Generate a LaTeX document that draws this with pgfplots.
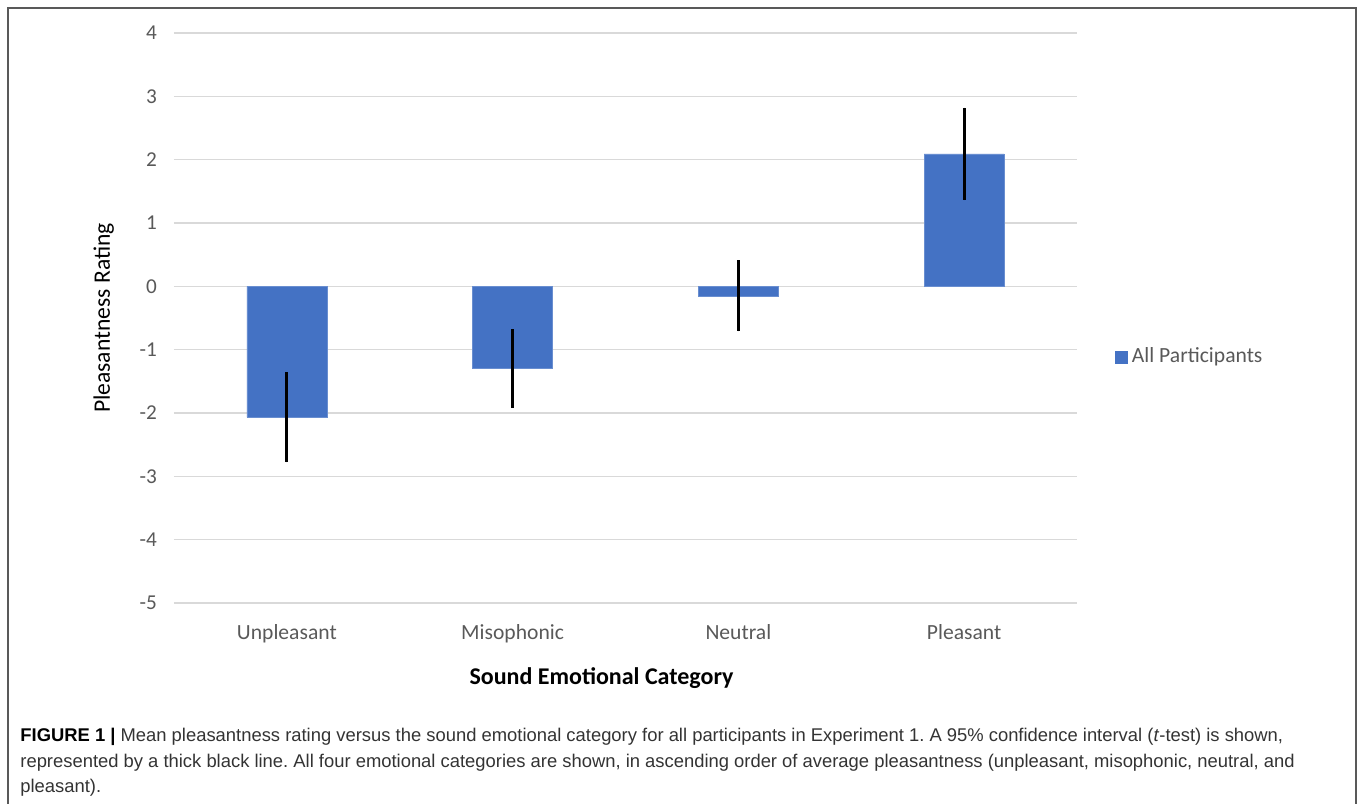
\documentclass[border=0pt]{standalone}
\usepackage{fontspec}
\setmainfont{Carlito}
\newfontfamily\capfont{Liberation Sans}
\usepackage{pgfplots}
\pgfplotsset{compat=1.18}
\definecolor{barblue}{HTML}{4472C4}
\definecolor{gridgray}{HTML}{D9D9D9}
\definecolor{ticktext}{HTML}{595959}
\definecolor{capgray}{HTML}{333333}
\frenchspacing
\begin{document}
\begin{tikzpicture}
\useasboundingbox (0,0) rectangle (678.5pt,-402pt);
\draw[line width=1pt, color=black!65] (4pt,-405pt) -- (4pt,-4pt) -- (678pt,-4pt) -- (678pt,-405pt);
\begin{axis}[
  at={(87pt,-301.5pt)}, anchor=south west,
  scale only axis, width=451.5pt, height=285pt,
  xmin=-0.5, xmax=3.5, ymin=-5, ymax=4,
  ytick={-5,-4,...,4},
  xtick={0,1,2,3},
  xticklabels={Unpleasant,Misophonic,Neutral,Pleasant},
  axis line style={draw=none},
  major tick length=0pt,
  ymajorgrids, grid style={gridgray, line width=0.6pt},
  yticklabel style={font=\fontsize{10.6}{12}\selectfont, color=ticktext, xshift=-5pt},
  xticklabel style={font=\fontsize{10.8}{12}\selectfont, color=ticktext, yshift=-7pt},
  /pgf/number format/assume math mode=true,
  ylabel={Pleasantness Rating},
  ylabel style={font=\fontsize{11.8}{13}\selectfont, color=black, yshift=6pt},
  xlabel={\textbf{Sound Emotional Category}},
  xlabel style={font=\fontsize{12}{14}\selectfont, color=black, yshift=-5.5pt, xshift=-12pt},
  ybar, bar width=40pt,
  legend style={at={(1.042,0.4316)}, anchor=west, draw=none, fill=none,
    font=\fontsize{10.8}{12}\selectfont, text=ticktext, inner sep=0pt,
    /tikz/every even column/.append style={column sep=0pt}},
  legend cell align=left,
  legend image code/.code={\fill[barblue] (0pt,-3pt) rectangle (6pt,3pt);},
]
\addplot[fill=barblue, draw=barblue!80!white, line width=0.3pt,
  error bars/.cd, y dir=both, y explicit,
  error bar style={line width=1.6pt, black}, error mark=none]
  coordinates {
    (0,-2.07) +- (0,0.71)
    (1,-1.30) +- (0,0.62)
    (2,-0.15) +- (0,0.56)
    (3,2.09) +- (0,0.73)
  };
\addlegendentry{All Participants}
\end{axis}
\node[anchor=base west, inner sep=0pt, font=\capfont\fontsize{9.2}{12}\selectfont, color=capgray] at (10pt,-370.5pt)
  {\textbf{\color{black}FIGURE 1 |} Mean pleasantness rating versus the sound emotional category for all participants in Experiment 1. A 95\% confidence interval (\textit{t}-test) is shown,};
\node[anchor=base west, inner sep=0pt, font=\capfont\fontsize{9.2}{12}\selectfont, color=capgray] at (10pt,-383.5pt)
  {represented by a thick black line. All four emotional categories are shown, in ascending order of average pleasantness (unpleasant, misophonic, neutral, and};
\node[anchor=base west, inner sep=0pt, font=\capfont\fontsize{9.2}{12}\selectfont, color=capgray] at (10pt,-396pt)
  {pleasant).};
\end{tikzpicture}
\end{document}
